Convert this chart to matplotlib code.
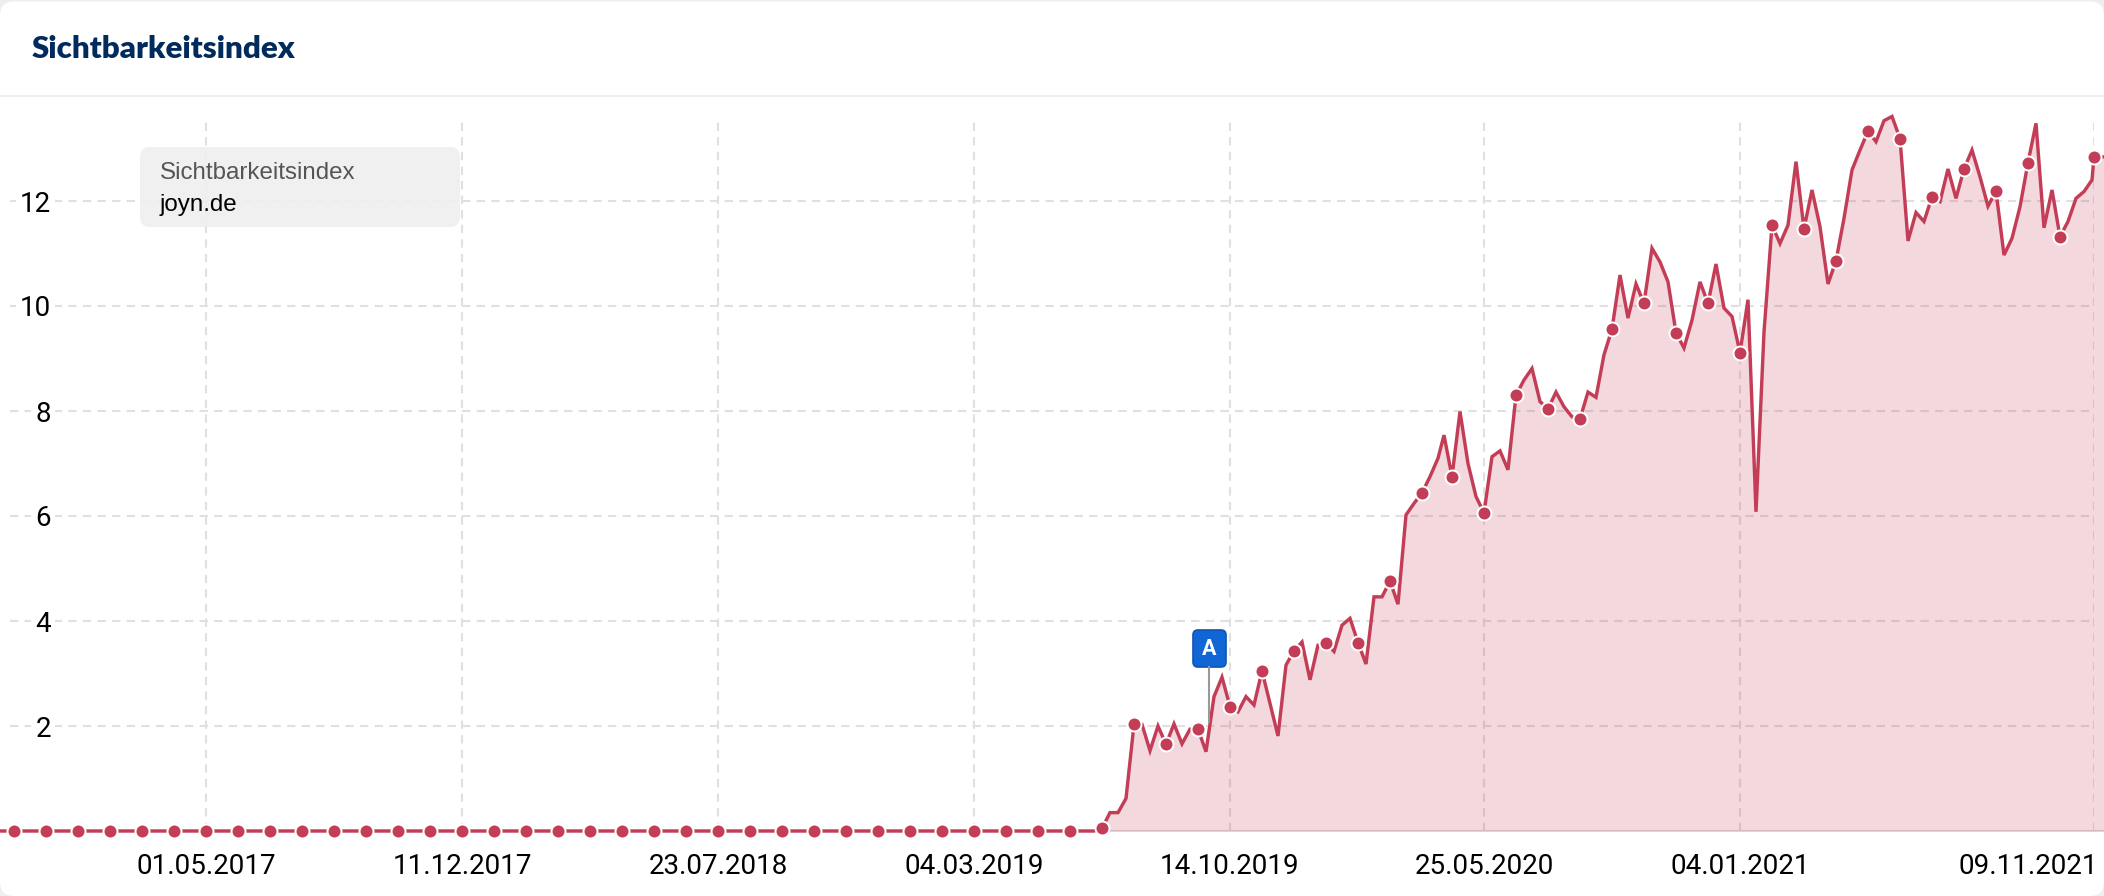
import numpy as np
import matplotlib
matplotlib.use('Agg')
import matplotlib.pyplot as plt
from matplotlib.patches import FancyBboxPatch
from matplotlib.transforms import ScaledTranslation

# weekly values, flat at zero until mid 2019
leading_zeros = [0.0] * 138
values_2019 = [0.05, 0.35, 0.35, 0.62, 2.03, 2.03, 1.53, 2.0, 1.65, 2.04, 1.66, 1.94, 1.94, 1.51,
               2.56, 2.93, 2.37, 2.27, 2.56, 2.4, 3.05, 2.43, 1.81, 3.16, 3.43, 3.6, 2.88, 3.54,
               3.58, 3.42, 3.92, 4.05, 3.59, 3.18, 4.46, 4.46, 4.76, 4.32]
values_2020 = [6.02, 6.24, 6.44, 6.75, 7.1, 7.54, 6.75, 7.99, 7.0, 6.37, 6.06, 7.13, 7.24, 6.88,
               8.3, 8.59, 8.81, 8.18, 8.04, 8.36, 8.08, 7.89, 7.85, 8.36, 8.26, 9.07, 9.56, 10.59,
               9.77, 10.42, 10.05, 11.1, 10.84, 10.46, 9.49, 9.2, 9.73, 10.46, 10.05, 10.8, 9.96,
               9.8, 9.11, 10.12, 6.08, 9.5]
values_2021 = [11.54, 11.19, 11.54, 12.75, 11.47, 12.21, 11.51, 10.42, 10.86, 11.67, 12.59, 12.97,
               13.33, 13.13, 13.53, 13.61, 13.19, 11.24, 11.78, 11.61, 12.08, 11.99, 12.61, 12.05,
               12.61, 12.97, 12.46, 11.9, 12.19, 10.97, 11.29, 11.89, 12.73, 13.48, 11.49, 12.21,
               11.32, 11.61, 12.05, 12.18, 12.4, 12.84, 12.84, 12.84]
values = np.array(leading_zeros + values_2019 + values_2020 + values_2021)

# two samples came in early, so their step is shorter than a week
short_steps = {181: 0.75, 263: 0.25}
# markers sit on every 4th sample
marker_idx = list(range(2, 259, 4)) + [263]

tick_idx = [26, 58, 90, 122, 154, 186, 218, 263]
tick_labels = ['01.05.2017', '11.12.2017', '23.07.2018', '04.03.2019',
               '14.10.2019', '25.05.2020', '04.01.2021', '09.11.2021']
y_ticks = [2, 4, 6, 8, 10, 12]

RED = '#c43d57'
W, H = 2104, 896
px = 100 / 72  # pixels per point at dpi 100

steps = np.ones(len(values))
steps[0] = 0
for i, s in short_steps.items():
    steps[i] = s
x = np.cumsum(steps)

fig = plt.figure(figsize=(W / 100, H / 100), dpi=100, facecolor='#eeeeee')

# card and header, in pixel coordinates
bg = fig.add_axes([0, 0, 1, 1], zorder=0)
bg.set_xlim(0, W)
bg.set_ylim(H, 0)
bg.axis('off')
bg.add_patch(FancyBboxPatch((0, 1.5), W, H - 1.5, boxstyle='round,pad=0,rounding_size=14',
                            fc='white', ec='none'))
bg.plot([0, W], [96, 96], color='#eeeeee', lw=1.5)
bg.text(32, 49, 'Sichtbarkeitsindex', family='Lato', weight='heavy', fontsize=22.5,
        color='#002b5c', va='center', ha='left')

# plot area runs from x=10 to x=2094 and y=117 to y=831
ax = fig.add_axes([10 / W, (H - 831) / H, (2094 - 10) / W, (831 - 117) / H], zorder=1)
ax.patch.set_alpha(0)
ax.set_xlim(x[1] + 0.5, x[263])
ax.set_ylim(0, 714 / 52.5)
for s in ax.spines.values():
    s.set_visible(False)

ax.set_xticks(x[tick_idx])
ax.set_xticklabels(tick_labels, family='Roboto', fontsize=20, color='black')
ax.set_yticks(y_ticks)
ax.set_yticklabels(y_ticks, family='Roboto', fontsize=20, color='black')
ax.tick_params(axis='x', length=0, pad=16)
ax.tick_params(axis='y', length=0, pad=-41 / px)
for lab in ax.get_yticklabels():
    lab.set_bbox(dict(fc='white', ec='none', pad=3))
last = ax.get_xticklabels()[-1]
last.set_ha('right')
last.set_transform(last.get_transform() + ScaledTranslation(4 / 100, 0, fig.dpi_scale_trans))

ax.grid(True, color='#e0e0e0', lw=1.5, dashes=(4, 3))
ax.set_axisbelow(True)

ax.hlines(0, x[0], x[-1], color='#d8d8d8', lw=1.5, clip_on=False, zorder=1)
ax.fill_between(x, values, 0, color=RED, alpha=0.2, lw=0, clip_on=False, zorder=2)
ax.plot(x, values, color=RED, lw=3.4 / px, solid_joinstyle='miter', clip_on=False, zorder=3)
ax.plot(x[marker_idx], values[marker_idx], 'o', ms=14 / px, mfc=RED, mec='white', mew=2 / px,
        clip_on=False, zorder=4)

# overlay: legend box and event flag
top = fig.add_axes([0, 0, 1, 1], zorder=2)
top.set_xlim(0, W)
top.set_ylim(H, 0)
top.axis('off')
top.add_patch(FancyBboxPatch((140, 147), 320, 80, boxstyle='round,pad=0,rounding_size=10',
                             fc='#efefef', ec='none', alpha=0.92))
top.text(160, 173, 'Sichtbarkeitsindex', family='Liberation Sans', fontsize=17.4, color='#555555',
         va='center', ha='left')
top.text(160, 205, 'joyn.de', family='Liberation Sans', fontsize=17.4, color='black',
         va='center', ha='left')
top.plot([1209.3, 1209.3], [667, 722], color='#999999', lw=1.5)
top.add_patch(FancyBboxPatch((1193, 630), 33, 37, boxstyle='round,pad=0,rounding_size=5',
                             fc='#1166d6', ec='#0d55b3', lw=1.2))
top.text(1209.5, 649, 'A', family='Roboto', weight='bold', fontsize=15.5, color='white',
         va='center', ha='center')

fig.savefig('out.png', dpi=100, facecolor=fig.get_facecolor())
